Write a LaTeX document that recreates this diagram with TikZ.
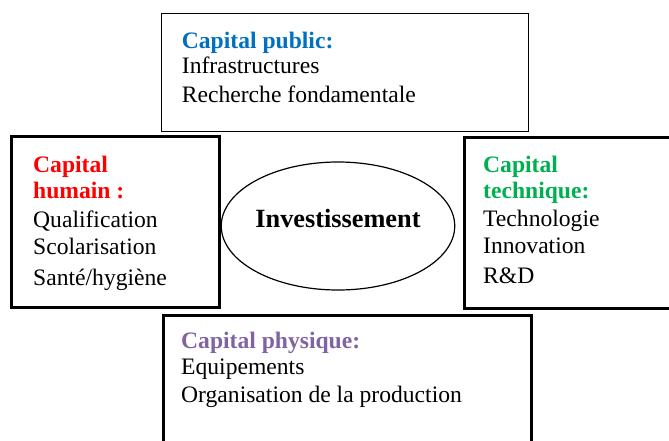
\documentclass[tikz,border=0pt]{standalone}
\usepackage{fontspec}
\setmainfont{Liberation Serif}
\usepackage{xcolor}
\usetikzlibrary{positioning,shapes.geometric}

\definecolor{pubblue}{RGB}{0,112,192}
\definecolor{humred}{RGB}{255,0,0}
\definecolor{techgreen}{RGB}{0,176,80}
\definecolor{physviolet}{RGB}{128,100,162}

% coloured bold heading line inside a box
\newcommand{\capttl}[2]{\textcolor{#1}{\bfseries #2}}

\begin{document}
\begin{tikzpicture}[
  x=1pt, y=-1pt,
  font=\fontsize{23.6}{26}\selectfont,
  box/.style={draw, rectangle, anchor=north west, inner sep=0pt, line width=3pt},
  thinbox/.style={box, line width=1.2pt},
  txt/.style={anchor=north west, align=left, inner sep=0pt},
  core/.style={draw, ellipse, line width=1.2pt, inner sep=0pt,
    minimum width=232pt, minimum height=128pt,
    font=\fontsize{26.3}{30}\selectfont\bfseries,
    text height=17.7pt, text depth=15.7pt}
]
\useasboundingbox (0,0) rectangle (669,440);

% ---------------- the four kinds of capital ----------------
\node[thinbox, minimum width=367, minimum height=118] (pub) at (160.7,13) {};
\node[box, minimum width=208, minimum height=171] (hum) at (10,135) {};
\node[box, minimum width=250, minimum height=171] (tech) at (463,135.5) {};
\node[box, minimum width=368, minimum height=160] (phys) at (162,314) {};

\node[txt] (pubtxt) at ([shift={(21,19)}]pub.north west)
  {\capttl{pubblue}{Capital public:}\\[-1pt]
   Infrastructures\\[3pt]
   Recherche fondamentale};
\node[txt] (humtxt) at ([shift={(23,20.7)}]hum.north west)
  {\capttl{humred}{Capital}\\
   \capttl{humred}{humain :}\\[3pt]
   Qualification\\[1pt]
   Scolarisation\\[5pt]
   Santé/hygiène};
\node[txt] (techtxt) at ([shift={(20,20.2)}]tech.north west)
  {\capttl{techgreen}{Capital}\\
   \capttl{techgreen}{technique:}\\[2pt]
   Technologie\\[1pt]
   Innovation\\[4pt]
   R\&D};
\node[txt] (phystxt) at ([shift={(19,18)}]phys.north west)
  {\capttl{physviolet}{Capital physique:}\\
   Equipements\\[2pt]
   Organisation de la production};

% ---------------- centre ----------------
\node[core] (inv) at (338,226) {Investissement};
\end{tikzpicture}
\end{document}
